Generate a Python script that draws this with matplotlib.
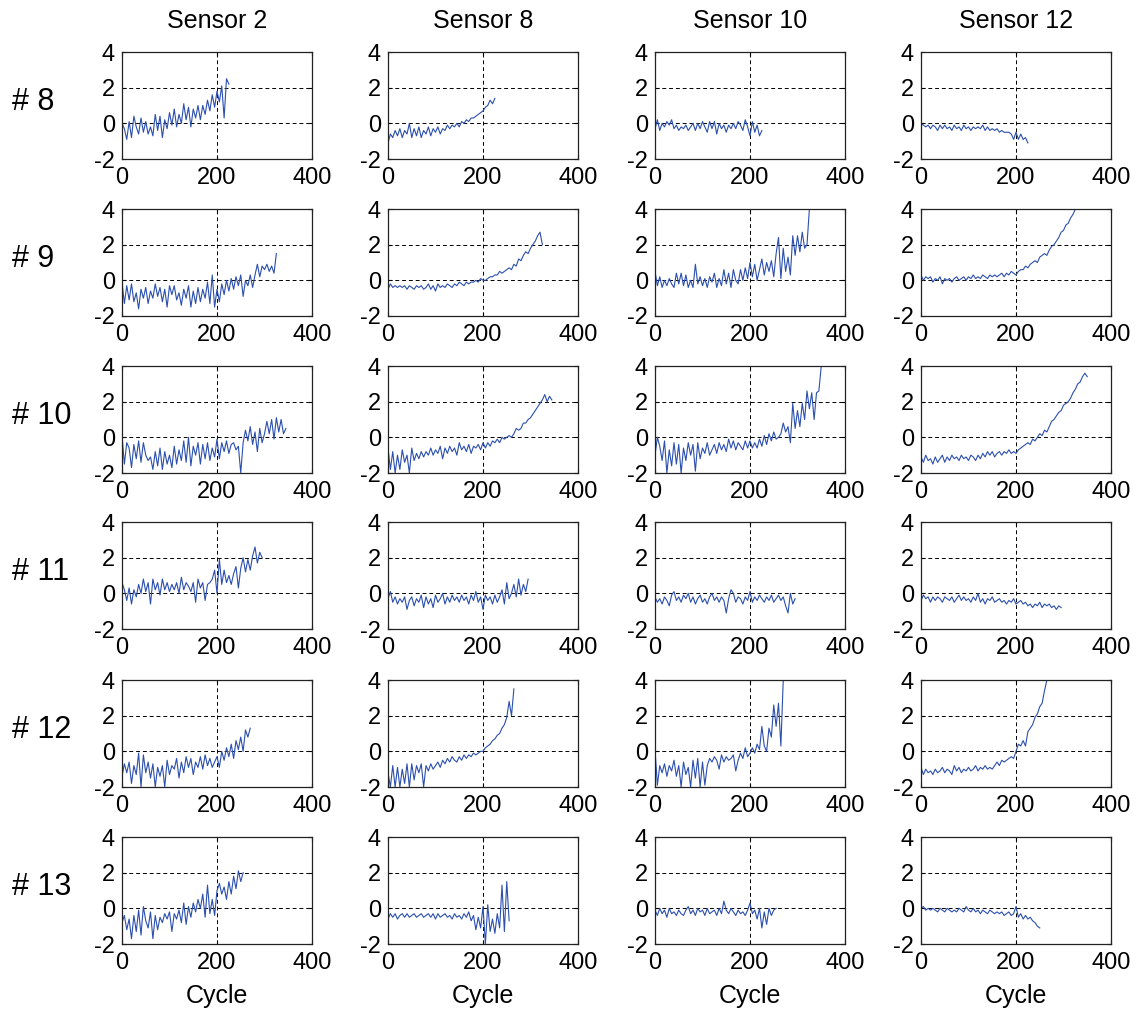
import numpy as np
import matplotlib.pyplot as plt

plt.rcParams['font.family'] = ['Liberation Sans', 'DejaVu Sans']
plt.rcParams['axes.unicode_minus'] = False

sensors = ["Sensor 2", "Sensor 8", "Sensor 10", "Sensor 12"]
units = ["# 8", "# 9", "# 10", "# 11", "# 12", "# 13"]

# readings are sampled every 5 cycles
step = 5

# unit 8
u8_s2 = [0.0, -0.3, -0.9, 0.1, -0.8, 0.4, -0.2, -0.6, 0.3, -0.5, 0.1, -0.6, -0.2, -0.7, 0.5, -0.4,
         0.4, -0.8, 0.2, -0.3, 0.6, -0.1, 0.8, -0.2, 0.5, 0.0, 1.1, 0.2, 0.9, -0.2, 0.8, 0.3,
         1.0, 0.2, 1.0, 0.5, 1.3, 0.7, 1.6, 0.9, 1.8, 1.2, 2.1, 0.3, 2.5, 2.2]
u8_s8 = [-1.1, -0.6, -0.8, -0.4, -0.7, -0.3, -0.8, -0.4, -0.6, 0.0, -0.8, -0.3, -0.7, -0.2, -0.8, -0.4,
         -0.6, -0.2, -0.7, -0.3, -0.5, -0.2, -0.6, -0.3, -0.4, -0.1, -0.3, -0.1, -0.2, 0.0, -0.2, 0.1,
         0.0, 0.2, 0.1, 0.3, 0.3, 0.4, 0.5, 0.6, 0.7, 0.9, 1.0, 1.3, 1.1, 1.4]
u8_s10 = [-0.3, 0.2, -0.4, 0.0, -0.2, 0.1, -0.1, 0.2, -0.3, -0.1, -0.4, -0.2, -0.3, -0.1, -0.4, -0.2,
          0.0, -0.4, 0.0, -0.3, 0.1, -0.2, -0.5, 0.1, -0.3, 0.1, -0.6, 0.0, -0.3, -0.1, -0.5, -0.1,
          -0.3, 0.0, -0.3, 0.1, -0.1, -0.4, 0.2, -0.2, -0.7, 0.1, -0.5, -0.1, -0.7, -0.4]
u8_s12 = [0.0, -0.1, -0.2, -0.1, -0.3, -0.1, -0.2, -0.4, -0.1, -0.3, -0.1, -0.3, -0.2, -0.4, -0.1, -0.3,
          -0.2, -0.4, -0.1, -0.3, -0.2, -0.4, -0.2, -0.3, -0.2, -0.3, -0.1, -0.4, -0.2, -0.4, -0.3, -0.4,
          -0.3, -0.5, -0.4, -0.5, -0.5, -0.5, -0.6, -0.9, -0.5, -0.9, -0.6, -0.9, -0.8, -1.1]

# unit 9
u9_s2 = [-0.1, -1.3, -0.3, -1.1, -0.2, -1.2, -0.7, -1.6, -0.5, -1.0, -0.4, -1.3, -0.6, -1.0, -0.2, -0.9,
         -0.4, -1.2, -0.5, -1.5, -0.3, -0.8, -0.3, -1.1, -0.7, -1.4, -0.5, -1.0, -0.3, -1.5, -0.6, -1.3,
         -0.4, -1.2, -0.5, -1.0, -0.1, -1.3, 0.3, -1.5, -0.5, -1.2, -0.2, -0.8, 0.0, -0.6, 0.1, -0.5,
         0.2, -0.3, 0.3, -0.9, 0.0, -0.3, 0.3, -0.4, 0.3, 0.9, 0.2, 0.8, 0.6, 0.9, 0.5, 0.8, 0.4, 1.5]
u9_s8 = [-0.5, -0.2, -0.4, -0.3, -0.4, -0.3, -0.4, -0.3, -0.5, -0.3, -0.4, -0.5, -0.3, -0.4, -0.3, -0.5,
         -0.4, -0.2, -0.5, -0.3, -0.6, -0.2, -0.4, -0.3, -0.4, -0.2, -0.3, -0.4, -0.2, -0.3, -0.1, -0.2,
         -0.3, -0.1, -0.2, -0.1, -0.1, 0.0, -0.1, 0.1, 0.0, 0.0, 0.1, 0.2, 0.2, 0.3, 0.3, 0.5,
         0.4, 0.5, 0.6, 0.7, 0.6, 0.9, 0.8, 1.2, 1.1, 1.4, 1.6, 1.5, 1.8, 2.0, 2.2, 2.5, 2.7, 2.0]
u9_s10 = [0.5, -0.3, 0.2, -0.4, 0.0, -0.3, 0.1, -0.2, -0.4, 0.4, -0.2, 0.4, -0.3, 0.3, -0.4, 0.0,
          -0.4, 0.9, -0.2, 0.2, -0.3, 0.1, -0.4, 0.2, -0.1, 0.4, -0.4, 0.1, -0.3, 0.6, -0.2, 0.4,
          -0.4, 0.6, 0.0, -0.2, 0.6, 0.0, 0.7, 0.1, 1.0, 0.2, 0.9, 0.0, 0.6, 1.2, 0.3, 1.0,
          0.5, 1.1, 0.2, 1.5, 2.4, 0.1, 1.8, 0.5, 1.3, 0.3, 2.5, 1.4, 2.5, 1.6, 2.7, 1.8, 2.0, 4.0]
u9_s12 = [0.3, 0.0, 0.2, 0.1, 0.2, -0.1, 0.1, 0.0, 0.2, -0.2, 0.1, 0.0, 0.1, -0.1, 0.1, 0.2,
          0.0, 0.1, 0.2, 0.0, 0.2, 0.1, 0.3, 0.1, 0.2, 0.1, 0.3, 0.2, 0.1, 0.3, 0.2, 0.3,
          0.2, 0.3, 0.4, 0.2, 0.4, 0.3, 0.5, 0.4, 0.3, 0.5, 0.6, 0.6, 0.8, 0.7, 0.9, 1.0,
          1.1, 1.0, 1.3, 1.4, 1.5, 1.4, 1.7, 1.9, 2.0, 2.2, 2.4, 2.7, 2.8, 3.1, 3.2, 3.5, 3.7, 4.0]

# unit 10
u10_s2 = [0.1, -1.5, -0.3, -0.6, -1.7, -0.4, -1.2, -0.2, -1.4, -0.3, -1.0, -1.3, -1.1, -1.8, -0.8, -1.6,
          -0.6, -1.8, -0.8, -1.5, -1.0, -1.7, -0.5, -1.5, -0.7, -1.3, -0.2, -1.4, 0.0, -1.6, -0.5, -1.0,
          -0.3, -1.5, -0.4, -1.2, -0.3, -1.3, -0.6, -1.1, -0.1, -1.2, -0.3, -0.8, -0.2, -0.9, -0.4, -0.3,
          -0.7, -0.5, -2.0, -0.3, 0.4, -0.2, 0.6, -0.4, 0.3, -0.8, 0.5, -0.3, 0.2, 0.9, 0.2, 1.0,
          -0.1, 1.1, 0.3, 1.0, 0.2, 0.5]
u10_s8 = [-0.6, -1.8, -0.8, -2.0, -1.0, -1.8, -0.7, -1.4, -1.0, -2.0, -0.6, -1.3, -0.9, -1.2, -0.8, -1.1,
          -0.8, -1.0, -0.6, -1.0, -0.7, -0.9, -0.5, -1.2, -0.6, -0.9, -0.5, -0.8, -0.6, -1.0, -0.3, -0.7,
          -0.5, -0.8, -0.4, -0.9, -0.5, -0.6, -0.4, -0.7, -0.3, -0.6, -0.3, -0.5, -0.2, -0.3, -0.1, -0.3,
          0.0, -0.1, 0.0, 0.1, 0.0, 0.2, 0.5, 0.4, 0.5, 0.8, 0.8, 1.0, 1.1, 1.3, 1.5, 1.7,
          1.9, 2.1, 2.4, 2.0, 2.3, 2.1]
u10_s10 = [-1.0, 0.0, -0.5, -1.3, -0.2, -2.0, -0.7, -1.6, -0.3, -1.5, -0.4, -2.0, -0.6, -1.3, -0.3, -1.0,
           -0.4, -1.9, -0.3, -1.2, -0.6, -0.9, -0.3, -1.0, -0.7, -0.4, -0.9, -0.3, -0.7, -0.4, -0.8, -0.1,
           -0.6, -0.2, -0.7, -0.3, -0.5, -0.7, -0.2, -0.6, -0.2, -0.6, -0.3, -0.6, -0.1, -0.5, 0.1, -0.4,
           0.2, -0.2, 0.3, -0.1, 0.0, 0.2, 0.8, 0.3, 0.6, -0.3, 1.9, 0.5, 1.5, 0.6, 1.9, 1.0,
           2.6, 1.6, 2.5, 1.0, 2.5, 2.6, 4.0]
u10_s12 = [-1.1, -1.4, -1.0, -1.3, -1.2, -1.5, -1.1, -1.4, -1.2, -1.0, -1.4, -1.1, -1.3, -1.0, -1.2, -1.1,
           -1.3, -1.0, -1.2, -1.1, -1.3, -1.0, -1.1, -1.3, -1.0, -1.2, -0.9, -1.1, -0.8, -1.0, -0.8, -1.1,
           -0.9, -0.8, -1.0, -0.8, -0.9, -0.7, -0.9, -0.8, -0.9, -0.7, -0.6, -0.5, -0.4, -0.3, -0.4, -0.1,
           -0.2, 0.0, 0.2, 0.1, 0.4, 0.3, 0.6, 0.9, 1.0, 1.2, 1.4, 1.5, 1.8, 1.9, 2.0, 2.2,
           2.5, 2.7, 3.0, 3.1, 3.4, 3.6, 3.4]

# unit 11
u11_s2 = [0.6, 0.2, -0.4, 0.3, -0.6, 0.2, -0.2, 0.5, 0.0, 0.8, 0.1, 0.6, -0.6, 0.8, 0.2, 0.6,
          -0.1, 0.8, 0.2, 0.6, 0.1, 0.5, 0.2, 0.6, 0.0, 0.9, 0.2, 0.6, 0.4, 0.1, 0.6, -0.5,
          0.8, 0.3, 0.6, -0.4, 0.5, 0.6, 0.8, 1.3, 0.0, 1.9, 0.5, 1.3, 0.6, 1.0, 0.5, 1.1,
          1.5, 0.3, 1.4, 2.0, 1.2, 1.9, 1.3, 2.1, 2.6, 1.7, 2.3, 2.0]
u11_s8 = [-0.3, 0.1, -0.5, -0.2, -0.6, -0.3, -0.5, -0.2, -0.9, -0.4, -0.2, -0.7, -0.3, -0.5, -0.1, -0.8,
          -0.2, -0.6, -0.3, -0.8, -0.1, -0.5, -0.3, 0.0, -0.6, -0.2, -0.5, -0.1, -0.4, -0.2, -0.5, -0.1,
          -0.4, -0.2, -0.6, -0.1, -0.4, 0.1, -0.5, -0.2, -0.9, -0.1, -0.4, -0.2, -0.6, -0.1, -0.5, -0.2,
          0.2, -0.6, 0.6, -0.3, 0.0, 0.5, -0.2, 0.8, -0.1, 0.5, 0.1, 0.8]
u11_s10 = [-0.2, -0.5, -0.3, -0.6, -0.2, -0.4, -0.7, -0.1, 0.1, -0.4, -0.2, -0.5, -0.1, -0.3, 0.0, -0.5,
           -0.2, -0.6, -0.3, -0.1, -0.5, -0.3, -0.6, -0.2, 0.0, -0.4, -0.2, -0.5, -0.2, -0.4, -1.1, -0.3,
           0.2, 0.0, -0.5, -0.2, -0.3, -0.6, -0.2, -0.4, 0.1, -0.5, -0.2, -0.4, -0.1, -0.3, -0.5, -0.2,
           -0.4, -0.1, -0.5, -0.3, -0.1, -0.4, -0.2, -0.7, -1.1, 0.0, -0.6, -0.3]
u11_s12 = [-0.4, -0.1, -0.3, -0.2, -0.5, -0.2, -0.4, -0.2, -0.3, -0.5, -0.2, -0.3, -0.4, -0.2, -0.5, -0.3,
           -0.1, -0.4, -0.2, -0.4, -0.3, -0.5, -0.2, -0.4, 0.0, -0.5, -0.3, -0.6, -0.3, -0.4, -0.2, -0.5,
           -0.4, -0.3, -0.5, -0.4, -0.6, -0.4, -0.5, -0.3, -0.6, -0.5, -0.4, -0.6, -0.5, -0.7, -0.6, -0.8,
           -0.6, -0.7, -0.5, -0.8, -0.6, -0.7, -0.6, -0.8, -0.7, -0.9, -0.7, -0.8]

# unit 12
u12_s2 = [-1.4, -0.7, -1.2, -0.6, -1.8, -0.8, -1.3, -0.1, -2.0, -0.2, -1.2, -0.6, -1.5, -0.7, -2.0, -0.9,
          -1.4, -0.8, -2.0, -0.5, -1.3, -0.8, -1.0, -0.4, -1.5, -0.6, -1.2, -0.3, -0.9, -0.4, -1.3, -0.6,
          -0.9, -0.3, -1.0, -0.2, -0.8, -0.4, -0.9, -0.6, -0.3, -0.9, 0.0, -0.5, 0.2, -0.3, 0.4, -0.4,
          0.6, 0.1, 0.8, 0.0, 1.2, 0.8, 1.3]
u12_s8 = [-1.2, -2.0, -0.8, -2.0, -0.9, -2.0, -1.0, -1.8, -0.7, -2.0, -0.7, -1.6, -0.8, -1.2, -0.7, -2.0,
          -0.8, -1.1, -0.7, -1.0, -0.8, -0.6, -0.9, -0.5, -0.7, -0.4, -0.6, -0.3, -0.5, -0.6, -0.3, -0.5,
          -0.2, -0.4, -0.2, -0.3, -0.1, -0.2, -0.1, 0.0, 0.0, 0.2, 0.3, 0.4, 0.6, 0.7, 0.9, 1.0,
          1.3, 1.5, 1.9, 2.8, 2.0, 3.5]
u12_s10 = [0.1, -1.9, -0.8, -1.2, -0.7, -1.4, -0.8, -1.1, -0.5, -1.4, -0.8, -2.0, -0.6, -1.3, -0.9, -2.0,
           -0.5, -1.5, -0.4, -2.0, -0.6, -1.9, -0.8, -0.4, -0.6, -0.3, -0.5, -1.0, -0.2, -0.6, -0.3, -0.5,
           -0.4, -0.2, -1.1, -0.5, -0.1, -0.4, 0.2, -0.3, -0.1, 0.2, -0.1, 0.4, 0.1, 1.4, 0.3, 0.0,
           1.3, 0.8, 2.6, 1.4, 2.7, 0.3, 4.0]
u12_s12 = [-0.9, -1.3, -1.0, -1.2, -1.1, -1.3, -1.0, -1.2, -1.1, -0.9, -1.2, -1.0, -1.1, -1.3, -0.8, -1.1,
           -0.9, -1.2, -1.0, -1.1, -0.9, -1.1, -1.0, -0.8, -1.1, -0.9, -1.0, -0.8, -1.0, -0.9, -1.0, -0.8,
           -0.6, -0.8, -0.5, -0.6, -0.5, -0.4, -0.3, -0.4, 0.0, 0.4, 0.3, 0.6, 0.3, 1.1, 1.3, 1.5,
           1.9, 2.1, 2.5, 2.7, 3.4, 4.0]

# unit 13
u13_s2 = [-0.8, -0.4, -1.2, -0.6, -1.7, -0.4, -1.3, -0.1, -1.5, 0.1, -0.7, -1.1, -0.2, -1.7, -0.4, -1.2,
          -0.5, -0.8, -0.3, -0.6, -0.2, -1.3, -0.3, -0.6, -0.1, -0.8, 0.3, -0.9, 0.1, -0.5, 0.3, -0.2,
          0.5, 0.0, 0.8, -0.5, 1.3, -0.3, 0.5, -0.4, 1.0, 1.4, 0.8, 1.2, 0.5, 1.5, 0.8, 1.8,
          1.1, 2.1, 1.5, 2.0]
u13_s8 = [-0.6, -0.3, -0.5, -0.3, -0.6, -0.4, -0.3, -0.5, -0.3, -0.5, -0.4, -0.3, -0.5, -0.4, -0.3, -0.5,
          -0.4, -0.3, -0.5, -0.3, -0.6, -0.3, -0.5, -0.4, -0.3, -0.5, -0.4, -0.6, -0.3, -0.5, -0.4, -0.6,
          -0.3, -0.5, -0.2, -0.7, -0.4, -1.2, -0.5, -1.1, 0.1, -2.0, 0.2, -1.3, -0.6, -1.4, -0.3, -1.1,
          1.3, -1.3, 1.5, -0.7]
u13_s10 = [-0.1, -0.4, 0.0, -0.3, -0.1, -0.5, 0.0, -0.3, -0.2, -0.4, -0.1, -0.3, -0.4, -0.1, 0.1, -0.3,
           -0.1, -0.4, 0.0, -0.2, -0.1, -0.4, 0.0, -0.3, -0.2, -0.1, -0.4, 0.0, -0.3, 0.4, -0.1, -0.3,
           0.0, -0.2, -0.4, -0.1, -0.3, -0.2, -0.4, -0.1, 0.3, -0.3, -0.1, -0.6, 0.0, -1.1, -0.2, -0.9,
           0.0, -0.4, -0.1, 0.0]
u13_s12 = [0.0, 0.1, -0.1, 0.0, -0.1, 0.0, -0.1, -0.2, 0.0, -0.1, -0.2, 0.0, -0.1, -0.2, -0.1, -0.2,
           0.0, -0.1, -0.2, 0.1, -0.1, -0.2, 0.0, -0.2, -0.1, -0.3, -0.1, -0.2, -0.3, -0.1, -0.2, -0.3,
           -0.2, -0.3, -0.2, -0.4, -0.3, -0.2, -0.4, -0.3, 0.1, -0.5, -0.3, -0.6, -0.4, -0.6, -0.5, -0.7,
           -0.8, -1.0, -1.1]

grid = [
    [u8_s2, u8_s8, u8_s10, u8_s12],
    [u9_s2, u9_s8, u9_s10, u9_s12],
    [u10_s2, u10_s8, u10_s10, u10_s12],
    [u11_s2, u11_s8, u11_s10, u11_s12],
    [u12_s2, u12_s8, u12_s10, u12_s12],
    [u13_s2, u13_s8, u13_s10, u13_s12],
]

W, H = 1142, 1013
col_left = [122, 388, 655, 921]
row_top = [52, 209, 366, 522, 680, 837]
ax_w, ax_h = 190, 107
line_color = "#2b4fae"

fig = plt.figure(figsize=(W / 100, H / 100), dpi=100)

for i, row in enumerate(grid):
    for j, vals in enumerate(row):
        ax = fig.add_axes([col_left[j] / W, 1 - (row_top[i] + ax_h) / H, ax_w / W, ax_h / H])
        cycles = np.arange(len(vals)) * step
        ax.plot(cycles, vals, color=line_color, linewidth=0.8)
        ax.set_xlim(0, 400)
        ax.set_ylim(-2, 4)
        ax.set_xticks([0, 200, 400])
        ax.set_yticks([-2, 0, 2, 4])
        ax.grid(True, linestyle=(0, (4, 3)), color="black", linewidth=0.7)
        ax.tick_params(direction="in", top=True, right=True, length=3, labelsize=17)
        ax.tick_params(axis="x", pad=6)
        ax.tick_params(axis="y", pad=5)
        for sp in ax.spines.values():
            sp.set_linewidth(0.9)
            sp.set_color("#222222")
        if i == 0:
            ax.set_title(sensors[j], fontsize=18, pad=17)
        if i == len(grid) - 1:
            ax.set_xlabel("Cycle", fontsize=18, labelpad=7)
    fig.text(12 / W, 1 - (row_top[i] + 50) / H, units[i], fontsize=22, ha="left", va="center")

fig.savefig("out.png", dpi=100)
